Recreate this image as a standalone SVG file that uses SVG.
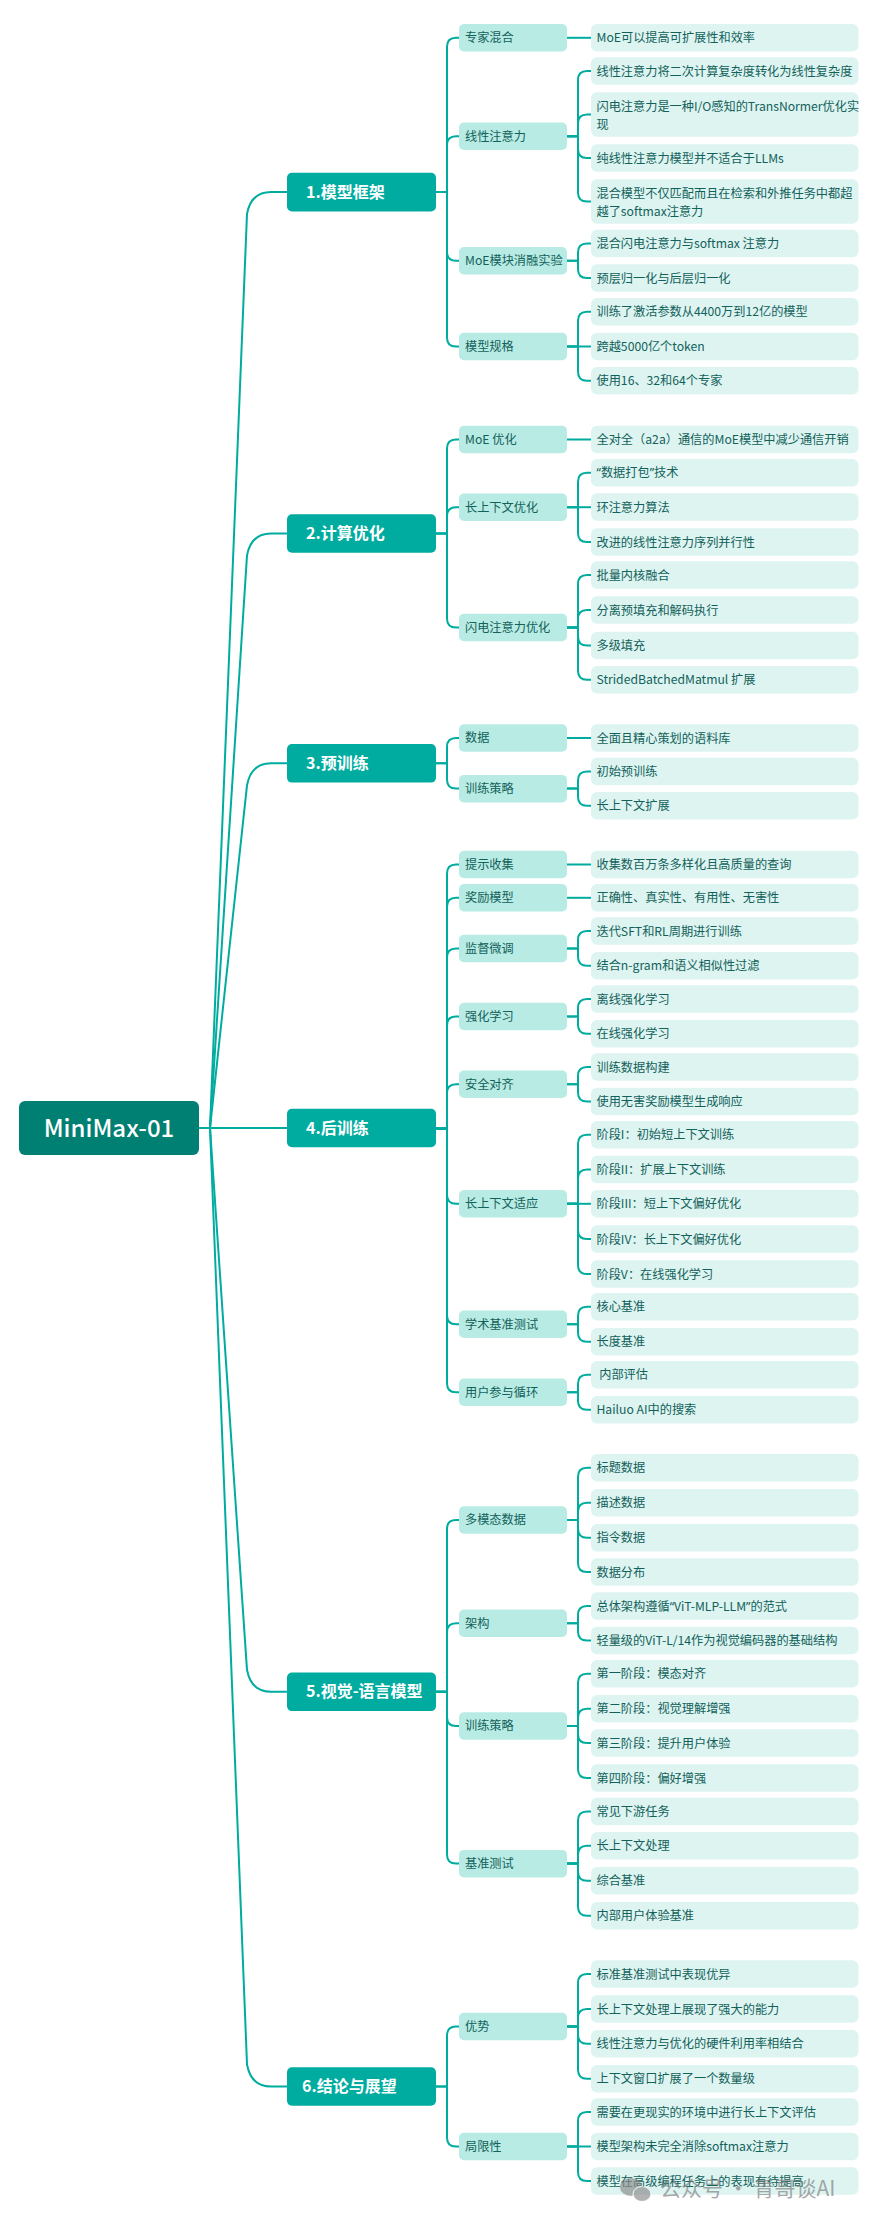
<svg xmlns="http://www.w3.org/2000/svg" width="880" height="2222" viewBox="0 0 880 2222">
<style>
text{font-family:"Noto Sans CJK SC","Noto Sans",sans-serif}
.q{font-family:"Noto Sans","Liberation Sans",sans-serif}
.r0{fill:#007F73}
.r1{fill:#00AC9F}
.r2{fill:#B8EBE3}
.r3{fill:#DDF4F1}
.t0{fill:#fff;font-size:24px;font-weight:500}
.t1{fill:#fff;font-size:16px;font-weight:700}
.t2,.t3{fill:#12615A;font-size:12.2px}
.c path{fill:none;stroke:#00AC9F;stroke-width:2}
</style>
<rect width="880" height="2222" fill="#fff"/>
<g class="c" id="connectors">
<path d="M199 1128H210L247 214Q251 192 271 192H287"/>
<path d="M199 1128H210L247 555.5Q251 533.5 271 533.5H287"/>
<path d="M199 1128H210L247 785.3Q251 763.3 271 763.3H287"/>
<path d="M199 1128H287"/>
<path d="M199 1128H210L247 1669.8Q251 1691.8 271 1691.8H287"/>
<path d="M199 1128H210L247 2064.5Q251 2086.5 271 2086.5H287"/>
<path d="M436 192.1H447V46.8Q447 37.8 456 37.8H459"/>
<path d="M436 192.1H447V145.3Q447 136.3 456 136.3H459"/>
<path d="M436 192.1H447V251.8Q447 260.8 456 260.8H459"/>
<path d="M436 192.1H447V337.5Q447 346.5 456 346.5H459"/>
<path d="M436 533.5H447V448.5Q447 439.5 456 439.5H459"/>
<path d="M436 533.5H447V516.2Q447 507.2 456 507.2H459"/>
<path d="M436 533.5H447V618.4Q447 627.4 456 627.4H459"/>
<path d="M436 763.3H447V747Q447 738 456 738H459"/>
<path d="M436 763.3H447V779.6Q447 788.6 456 788.6H459"/>
<path d="M436 1128.4H447V873.5Q447 864.5 456 864.5H459"/>
<path d="M436 1128.4H447V906.8Q447 897.8 456 897.8H459"/>
<path d="M436 1128.4H447V957.4Q447 948.4 456 948.4H459"/>
<path d="M436 1128.4H447V1025.4Q447 1016.4 456 1016.4H459"/>
<path d="M436 1128.4H447V1093.3Q447 1084.3 456 1084.3H459"/>
<path d="M436 1128.4H447V1194.8Q447 1203.8 456 1203.8H459"/>
<path d="M436 1128.4H447V1315.3Q447 1324.3 456 1324.3H459"/>
<path d="M436 1128.4H447V1383.3Q447 1392.3 456 1392.3H459"/>
<path d="M436 1691.8H447V1528.9Q447 1519.9 456 1519.9H459"/>
<path d="M436 1691.8H447V1632.3Q447 1623.3 456 1623.3H459"/>
<path d="M436 1691.8H447V1716.9Q447 1725.9 456 1725.9H459"/>
<path d="M436 1691.8H447V1854.6Q447 1863.6 456 1863.6H459"/>
<path d="M436 2086.5H447V2035.4Q447 2026.4 456 2026.4H459"/>
<path d="M436 2086.5H447V2137.5Q447 2146.5 456 2146.5H459"/>
<path d="M567 37.8H591"/>
<path d="M567 136.3H578V80.1Q578 71.1 587 71.1H591"/>
<path d="M567 136.3H578V123.5Q578 114.5 587 114.5H591"/>
<path d="M567 136.3H578V149.1Q578 158.1 587 158.1H591"/>
<path d="M567 136.3H578V192.5Q578 201.5 587 201.5H591"/>
<path d="M567 260.8H578V252.5Q578 243.5 587 243.5H591"/>
<path d="M567 260.8H578V269.1Q578 278.1 587 278.1H591"/>
<path d="M567 346.5H578V320.8Q578 311.8 587 311.8H591"/>
<path d="M567 346.5H591"/>
<path d="M567 346.5H578V371.8Q578 380.8 587 380.8H591"/>
<path d="M567 439.5H591"/>
<path d="M567 507.2H578V481.8Q578 472.8 587 472.8H591"/>
<path d="M567 507.2H591"/>
<path d="M567 507.2H578V533.1Q578 542.1 587 542.1H591"/>
<path d="M567 627.4H578V584.1Q578 575.1 587 575.1H591"/>
<path d="M567 627.4H578V619.1Q578 610.1 587 610.1H591"/>
<path d="M567 627.4H578V636.5Q578 645.5 587 645.5H591"/>
<path d="M567 627.4H578V670.8Q578 679.8 587 679.8H591"/>
<path d="M567 738H591"/>
<path d="M567 788.6H578V780.5Q578 771.5 587 771.5H591"/>
<path d="M567 788.6H578V796.8Q578 805.8 587 805.8H591"/>
<path d="M567 864.5H591"/>
<path d="M567 897.8H591"/>
<path d="M567 948.4H578V940.1Q578 931.1 587 931.1H591"/>
<path d="M567 948.4H578V956.8Q578 965.8 587 965.8H591"/>
<path d="M567 1016.4H578V1008.1Q578 999.1 587 999.1H591"/>
<path d="M567 1016.4H578V1024.8Q578 1033.8 587 1033.8H591"/>
<path d="M567 1084.3H578V1076.1Q578 1067.1 587 1067.1H591"/>
<path d="M567 1084.3H578V1092.5Q578 1101.5 587 1101.5H591"/>
<path d="M567 1203.8H578V1143.8Q578 1134.8 587 1134.8H591"/>
<path d="M567 1203.8H578V1178.5Q578 1169.5 587 1169.5H591"/>
<path d="M567 1203.8H591"/>
<path d="M567 1203.8H578V1230.1Q578 1239.1 587 1239.1H591"/>
<path d="M567 1203.8H578V1265.1Q578 1274.1 587 1274.1H591"/>
<path d="M567 1324.3H578V1315.8Q578 1306.8 587 1306.8H591"/>
<path d="M567 1324.3H578V1332.8Q578 1341.8 587 1341.8H591"/>
<path d="M567 1392.3H578V1383.8Q578 1374.8 587 1374.8H591"/>
<path d="M567 1392.3H578V1400.8Q578 1409.8 587 1409.8H591"/>
<path d="M567 1519.9H578V1476.8Q578 1467.8 587 1467.8H591"/>
<path d="M567 1519.9H578V1511.8Q578 1502.8 587 1502.8H591"/>
<path d="M567 1519.9H578V1528.8Q578 1537.8 587 1537.8H591"/>
<path d="M567 1519.9H578V1563.1Q578 1572.1 587 1572.1H591"/>
<path d="M567 1623.3H578V1615.1Q578 1606.1 587 1606.1H591"/>
<path d="M567 1623.3H578V1631.5Q578 1640.5 587 1640.5H591"/>
<path d="M567 1725.9H578V1682.8Q578 1673.8 587 1673.8H591"/>
<path d="M567 1725.9H578V1717.8Q578 1708.8 587 1708.8H591"/>
<path d="M567 1725.9H578V1734.1Q578 1743.1 587 1743.1H591"/>
<path d="M567 1725.9H578V1769.1Q578 1778.1 587 1778.1H591"/>
<path d="M567 1863.6H578V1820.5Q578 1811.5 587 1811.5H591"/>
<path d="M567 1863.6H578V1854.8Q578 1845.8 587 1845.8H591"/>
<path d="M567 1863.6H578V1871.8Q578 1880.8 587 1880.8H591"/>
<path d="M567 1863.6H578V1906.8Q578 1915.8 587 1915.8H591"/>
<path d="M567 2026.4H578V1983.1Q578 1974.1 587 1974.1H591"/>
<path d="M567 2026.4H578V2018.1Q578 2009.1 587 2009.1H591"/>
<path d="M567 2026.4H578V2034.8Q578 2043.8 587 2043.8H591"/>
<path d="M567 2026.4H578V2069.8Q578 2078.8 587 2078.8H591"/>
<path d="M567 2146.5H578V2121.1Q578 2112.1 587 2112.1H591"/>
<path d="M567 2146.5H591"/>
<path d="M567 2146.5H578V2172.1Q578 2181.1 587 2181.1H591"/>
</g>
<g id="root"><rect class="r0" x="19" y="1101" width="180" height="54" rx="6"/><text class="t0" x="109" y="1136.5" text-anchor="middle">MiniMax-01</text></g>
<g id="n1"><rect class="r1" x="287" y="172.8" width="149" height="38.6" rx="5"/><text class="t1" x="306" y="197.7">1.模型框架</text></g>
<g id="n2"><rect class="r1" x="287" y="514.2" width="149" height="38.6" rx="5"/><text class="t1" x="306" y="539.1">2.计算优化</text></g>
<g id="n3"><rect class="r1" x="287" y="744" width="149" height="38.6" rx="5"/><text class="t1" x="306" y="768.9">3.预训练</text></g>
<g id="n4"><rect class="r1" x="287" y="1108.7" width="149" height="38.6" rx="5"/><text class="t1" x="306" y="1133.6">4.后训练</text></g>
<g id="n5"><rect class="r1" x="287" y="1672.5" width="149" height="38.6" rx="5"/><text class="t1" x="306" y="1697.4">5.视觉-语言模型</text></g>
<g id="n6"><rect class="r1" x="287" y="2067.2" width="149" height="38.6" rx="5"/><text class="t1" x="302" y="2092.1">6.结论与展望</text></g>
<g id="n1-1"><rect class="r2" x="459" y="24" width="108" height="27.5" rx="5"/><text class="t2" x="465" y="42.2">专家混合</text></g>
<g id="n1-2"><rect class="r2" x="459" y="122.5" width="108" height="27.5" rx="5"/><text class="t2" x="465" y="140.7">线性注意力</text></g>
<g id="n1-3"><rect class="r2" x="459" y="247" width="108" height="27.5" rx="5"/><text class="t2" x="465" y="265.2">MoE模块消融实验</text></g>
<g id="n1-4"><rect class="r2" x="459" y="332.8" width="108" height="27.5" rx="5"/><text class="t2" x="465" y="350.9">模型规格</text></g>
<g id="n2-1"><rect class="r2" x="459" y="425.8" width="108" height="27.5" rx="5"/><text class="t2" x="465" y="443.9">MoE 优化</text></g>
<g id="n2-2"><rect class="r2" x="459" y="493.5" width="108" height="27.5" rx="5"/><text class="t2" x="465" y="511.6">长上下文优化</text></g>
<g id="n2-3"><rect class="r2" x="459" y="613.7" width="108" height="27.5" rx="5"/><text class="t2" x="465" y="631.8">闪电注意力优化</text></g>
<g id="n3-1"><rect class="r2" x="459" y="724.3" width="108" height="27.5" rx="5"/><text class="t2" x="465" y="742.4">数据</text></g>
<g id="n3-2"><rect class="r2" x="459" y="774.9" width="108" height="27.5" rx="5"/><text class="t2" x="465" y="793">训练策略</text></g>
<g id="n4-1"><rect class="r2" x="459" y="850.8" width="108" height="27.5" rx="5"/><text class="t2" x="465" y="868.9">提示收集</text></g>
<g id="n4-2"><rect class="r2" x="459" y="884" width="108" height="27.5" rx="5"/><text class="t2" x="465" y="902.2">奖励模型</text></g>
<g id="n4-3"><rect class="r2" x="459" y="934.7" width="108" height="27.5" rx="5"/><text class="t2" x="465" y="952.8">监督微调</text></g>
<g id="n4-4"><rect class="r2" x="459" y="1002.7" width="108" height="27.5" rx="5"/><text class="t2" x="465" y="1020.8">强化学习</text></g>
<g id="n4-5"><rect class="r2" x="459" y="1070.5" width="108" height="27.5" rx="5"/><text class="t2" x="465" y="1088.7">安全对齐</text></g>
<g id="n4-6"><rect class="r2" x="459" y="1190" width="108" height="27.5" rx="5"/><text class="t2" x="465" y="1208.2">长上下文适应</text></g>
<g id="n4-7"><rect class="r2" x="459" y="1310.5" width="108" height="27.5" rx="5"/><text class="t2" x="465" y="1328.7">学术基准测试</text></g>
<g id="n4-8"><rect class="r2" x="459" y="1378.5" width="108" height="27.5" rx="5"/><text class="t2" x="465" y="1396.7">用户参与循环</text></g>
<g id="n5-1"><rect class="r2" x="459" y="1506.2" width="108" height="27.5" rx="5"/><text class="t2" x="465" y="1524.3">多模态数据</text></g>
<g id="n5-2"><rect class="r2" x="459" y="1609.5" width="108" height="27.5" rx="5"/><text class="t2" x="465" y="1627.7">架构</text></g>
<g id="n5-3"><rect class="r2" x="459" y="1712.2" width="108" height="27.5" rx="5"/><text class="t2" x="465" y="1730.3">训练策略</text></g>
<g id="n5-4"><rect class="r2" x="459" y="1849.9" width="108" height="27.5" rx="5"/><text class="t2" x="465" y="1868">基准测试</text></g>
<g id="n6-1"><rect class="r2" x="459" y="2012.7" width="108" height="27.5" rx="5"/><text class="t2" x="465" y="2030.8">优势</text></g>
<g id="n6-2"><rect class="r2" x="459" y="2132.8" width="108" height="27.5" rx="5"/><text class="t2" x="465" y="2150.9">局限性</text></g>
<g id="l1-1-1"><rect class="r3" x="591" y="24" width="267.5" height="27.5" rx="6"/><text class="t3" x="596.5" y="42.2">MoE可以提高可扩展性和效率</text></g>
<g id="l1-2-1"><rect class="r3" x="591" y="57.3" width="267.5" height="27.5" rx="6"/><text class="t3" x="596.5" y="75.5">线性注意力将二次计算复杂度转化为线性复杂度</text></g>
<g id="l1-2-2"><rect class="r3" x="591" y="92.3" width="267.5" height="44.4" rx="6"/><text class="t3" x="596.5" y="111.1">闪电注意力是一种I/O感知的TransNormer优化实<tspan x="596.5" dy="17.4">现</tspan></text></g>
<g id="l1-2-3"><rect class="r3" x="591" y="144.3" width="267.5" height="27.5" rx="6"/><text class="t3" x="596.5" y="162.5">纯线性注意力模型并不适合于LLMs</text></g>
<g id="l1-2-4"><rect class="r3" x="591" y="179.3" width="267.5" height="44.4" rx="6"/><text class="t3" x="596.5" y="198.1">混合模型不仅匹配而且在检索和外推任务中都超<tspan x="596.5" dy="17.4">越了softmax注意力</tspan></text></g>
<g id="l1-3-1"><rect class="r3" x="591" y="229.7" width="267.5" height="27.5" rx="6"/><text class="t3" x="596.5" y="247.9">混合闪电注意力与softmax 注意力</text></g>
<g id="l1-3-2"><rect class="r3" x="591" y="264.3" width="267.5" height="27.5" rx="6"/><text class="t3" x="596.5" y="282.5">预层归一化与后层归一化</text></g>
<g id="l1-4-1"><rect class="r3" x="591" y="298" width="267.5" height="27.5" rx="6"/><text class="t3" x="596.5" y="316.2">训练了激活参数从4400万到12亿的模型</text></g>
<g id="l1-4-2"><rect class="r3" x="591" y="332.7" width="267.5" height="27.5" rx="6"/><text class="t3" x="596.5" y="350.9">跨越5000亿个token</text></g>
<g id="l1-4-3"><rect class="r3" x="591" y="367" width="267.5" height="27.5" rx="6"/><text class="t3" x="596.5" y="385.2">使用16、32和64个专家</text></g>
<g id="l2-1-1"><rect class="r3" x="591" y="425.7" width="267.5" height="27.5" rx="6"/><text class="t3" x="596.5" y="443.9">全对全（a2a）通信的MoE模型中减少通信开销</text></g>
<g id="l2-2-1"><rect class="r3" x="591" y="459" width="267.5" height="27.5" rx="6"/><text class="t3" x="596.5" y="477.2"><tspan class="q">“</tspan>数据打包<tspan class="q">”</tspan>技术</text></g>
<g id="l2-2-2"><rect class="r3" x="591" y="493.3" width="267.5" height="27.5" rx="6"/><text class="t3" x="596.5" y="511.5">环注意力算法</text></g>
<g id="l2-2-3"><rect class="r3" x="591" y="528.3" width="267.5" height="27.5" rx="6"/><text class="t3" x="596.5" y="546.5">改进的线性注意力序列并行性</text></g>
<g id="l2-3-1"><rect class="r3" x="591" y="561.3" width="267.5" height="27.5" rx="6"/><text class="t3" x="596.5" y="579.5">批量内核融合</text></g>
<g id="l2-3-2"><rect class="r3" x="591" y="596.3" width="267.5" height="27.5" rx="6"/><text class="t3" x="596.5" y="614.5">分离预填充和解码执行</text></g>
<g id="l2-3-3"><rect class="r3" x="591" y="631.7" width="267.5" height="27.5" rx="6"/><text class="t3" x="596.5" y="649.9">多级填充</text></g>
<g id="l2-3-4"><rect class="r3" x="591" y="666" width="267.5" height="27.5" rx="6"/><text class="t3" x="596.5" y="684.2">StridedBatchedMatmul 扩展</text></g>
<g id="l3-1-1"><rect class="r3" x="591" y="724.3" width="267.5" height="27.5" rx="6"/><text class="t3" x="596.5" y="742.5">全面且精心策划的语料库</text></g>
<g id="l3-2-1"><rect class="r3" x="591" y="757.7" width="267.5" height="27.5" rx="6"/><text class="t3" x="596.5" y="775.9">初始预训练</text></g>
<g id="l3-2-2"><rect class="r3" x="591" y="792" width="267.5" height="27.5" rx="6"/><text class="t3" x="596.5" y="810.2">长上下文扩展</text></g>
<g id="l4-1-1"><rect class="r3" x="591" y="850.7" width="267.5" height="27.5" rx="6"/><text class="t3" x="596.5" y="868.9">收集数百万条多样化且高质量的查询</text></g>
<g id="l4-2-1"><rect class="r3" x="591" y="884" width="267.5" height="27.5" rx="6"/><text class="t3" x="596.5" y="902.2">正确性、真实性、有用性、无害性</text></g>
<g id="l4-3-1"><rect class="r3" x="591" y="917.3" width="267.5" height="27.5" rx="6"/><text class="t3" x="596.5" y="935.5">迭代SFT和RL周期进行训练</text></g>
<g id="l4-3-2"><rect class="r3" x="591" y="952" width="267.5" height="27.5" rx="6"/><text class="t3" x="596.5" y="970.2">结合n-gram和语义相似性过滤</text></g>
<g id="l4-4-1"><rect class="r3" x="591" y="985.3" width="267.5" height="27.5" rx="6"/><text class="t3" x="596.5" y="1003.5">离线强化学习</text></g>
<g id="l4-4-2"><rect class="r3" x="591" y="1020" width="267.5" height="27.5" rx="6"/><text class="t3" x="596.5" y="1038.2">在线强化学习</text></g>
<g id="l4-5-1"><rect class="r3" x="591" y="1053.3" width="267.5" height="27.5" rx="6"/><text class="t3" x="596.5" y="1071.5">训练数据构建</text></g>
<g id="l4-5-2"><rect class="r3" x="591" y="1087.7" width="267.5" height="27.5" rx="6"/><text class="t3" x="596.5" y="1105.9">使用无害奖励模型生成响应</text></g>
<g id="l4-6-1"><rect class="r3" x="591" y="1121" width="267.5" height="27.5" rx="6"/><text class="t3" x="596.5" y="1139.2">阶段I：初始短上下文训练</text></g>
<g id="l4-6-2"><rect class="r3" x="591" y="1155.7" width="267.5" height="27.5" rx="6"/><text class="t3" x="596.5" y="1173.9">阶段II：扩展上下文训练</text></g>
<g id="l4-6-3"><rect class="r3" x="591" y="1190" width="267.5" height="27.5" rx="6"/><text class="t3" x="596.5" y="1208.2">阶段III：短上下文偏好优化</text></g>
<g id="l4-6-4"><rect class="r3" x="591" y="1225.3" width="267.5" height="27.5" rx="6"/><text class="t3" x="596.5" y="1243.5">阶段IV：长上下文偏好优化</text></g>
<g id="l4-6-5"><rect class="r3" x="591" y="1260.3" width="267.5" height="27.5" rx="6"/><text class="t3" x="596.5" y="1278.5">阶段V：在线强化学习</text></g>
<g id="l4-7-1"><rect class="r3" x="591" y="1293" width="267.5" height="27.5" rx="6"/><text class="t3" x="596.5" y="1311.2">核心基准</text></g>
<g id="l4-7-2"><rect class="r3" x="591" y="1328" width="267.5" height="27.5" rx="6"/><text class="t3" x="596.5" y="1346.2">长度基准</text></g>
<g id="l4-8-1"><rect class="r3" x="591" y="1361" width="267.5" height="27.5" rx="6"/><text class="t3" x="596.5" y="1379.2" xml:space="preserve"> 内部评估</text></g>
<g id="l4-8-2"><rect class="r3" x="591" y="1396" width="267.5" height="27.5" rx="6"/><text class="t3" x="596.5" y="1414.2">Hailuo AI中的搜索</text></g>
<g id="l5-1-1"><rect class="r3" x="591" y="1454" width="267.5" height="27.5" rx="6"/><text class="t3" x="596.5" y="1472.2">标题数据</text></g>
<g id="l5-1-2"><rect class="r3" x="591" y="1489" width="267.5" height="27.5" rx="6"/><text class="t3" x="596.5" y="1507.2">描述数据</text></g>
<g id="l5-1-3"><rect class="r3" x="591" y="1524" width="267.5" height="27.5" rx="6"/><text class="t3" x="596.5" y="1542.2">指令数据</text></g>
<g id="l5-1-4"><rect class="r3" x="591" y="1558.3" width="267.5" height="27.5" rx="6"/><text class="t3" x="596.5" y="1576.5">数据分布</text></g>
<g id="l5-2-1"><rect class="r3" x="591" y="1592.3" width="267.5" height="27.5" rx="6"/><text class="t3" x="596.5" y="1610.5">总体架构遵循<tspan class="q">“</tspan>ViT-MLP-LLM<tspan class="q">”</tspan>的范式</text></g>
<g id="l5-2-2"><rect class="r3" x="591" y="1626.7" width="267.5" height="27.5" rx="6"/><text class="t3" x="596.5" y="1644.9">轻量级的ViT-L/14作为视觉编码器的基础结构</text></g>
<g id="l5-3-1"><rect class="r3" x="591" y="1660" width="267.5" height="27.5" rx="6"/><text class="t3" x="596.5" y="1678.2">第一阶段：模态对齐</text></g>
<g id="l5-3-2"><rect class="r3" x="591" y="1695" width="267.5" height="27.5" rx="6"/><text class="t3" x="596.5" y="1713.2">第二阶段：视觉理解增强</text></g>
<g id="l5-3-3"><rect class="r3" x="591" y="1729.3" width="267.5" height="27.5" rx="6"/><text class="t3" x="596.5" y="1747.5">第三阶段：提升用户体验</text></g>
<g id="l5-3-4"><rect class="r3" x="591" y="1764.3" width="267.5" height="27.5" rx="6"/><text class="t3" x="596.5" y="1782.5">第四阶段：偏好增强</text></g>
<g id="l5-4-1"><rect class="r3" x="591" y="1797.7" width="267.5" height="27.5" rx="6"/><text class="t3" x="596.5" y="1815.9">常见下游任务</text></g>
<g id="l5-4-2"><rect class="r3" x="591" y="1832" width="267.5" height="27.5" rx="6"/><text class="t3" x="596.5" y="1850.2">长上下文处理</text></g>
<g id="l5-4-3"><rect class="r3" x="591" y="1867" width="267.5" height="27.5" rx="6"/><text class="t3" x="596.5" y="1885.2">综合基准</text></g>
<g id="l5-4-4"><rect class="r3" x="591" y="1902" width="267.5" height="27.5" rx="6"/><text class="t3" x="596.5" y="1920.2">内部用户体验基准</text></g>
<g id="l6-1-1"><rect class="r3" x="591" y="1960.3" width="267.5" height="27.5" rx="6"/><text class="t3" x="596.5" y="1978.5">标准基准测试中表现优异</text></g>
<g id="l6-1-2"><rect class="r3" x="591" y="1995.3" width="267.5" height="27.5" rx="6"/><text class="t3" x="596.5" y="2013.5">长上下文处理上展现了强大的能力</text></g>
<g id="l6-1-3"><rect class="r3" x="591" y="2030" width="267.5" height="27.5" rx="6"/><text class="t3" x="596.5" y="2048.2">线性注意力与优化的硬件利用率相结合</text></g>
<g id="l6-1-4"><rect class="r3" x="591" y="2065" width="267.5" height="27.5" rx="6"/><text class="t3" x="596.5" y="2083.2">上下文窗口扩展了一个数量级</text></g>
<g id="l6-2-1"><rect class="r3" x="591" y="2098.3" width="267.5" height="27.5" rx="6"/><text class="t3" x="596.5" y="2116.5">需要在更现实的环境中进行长上下文评估</text></g>
<g id="l6-2-2"><rect class="r3" x="591" y="2132.7" width="267.5" height="27.5" rx="6"/><text class="t3" x="596.5" y="2150.9">模型架构未完全消除softmax注意力</text></g>
<g id="l6-2-3"><rect class="r3" x="591" y="2167.3" width="267.5" height="27.5" rx="6"/><text class="t3" x="596.5" y="2185.5">模型在高级编程任务上的表现有待提高</text></g>
<g id="watermark" opacity="0.65">
<ellipse cx="631" cy="2187" rx="11" ry="9" fill="#8a8a8a"/>
<ellipse cx="642" cy="2194" rx="9" ry="7.5" fill="#8a8a8a" stroke="#fff" stroke-width="1"/>
<text x="660" y="2196" font-size="21" fill="#7d7d7d" xml:space="preserve">公众号 · 青哥谈AI</text>
</g>
</svg>
